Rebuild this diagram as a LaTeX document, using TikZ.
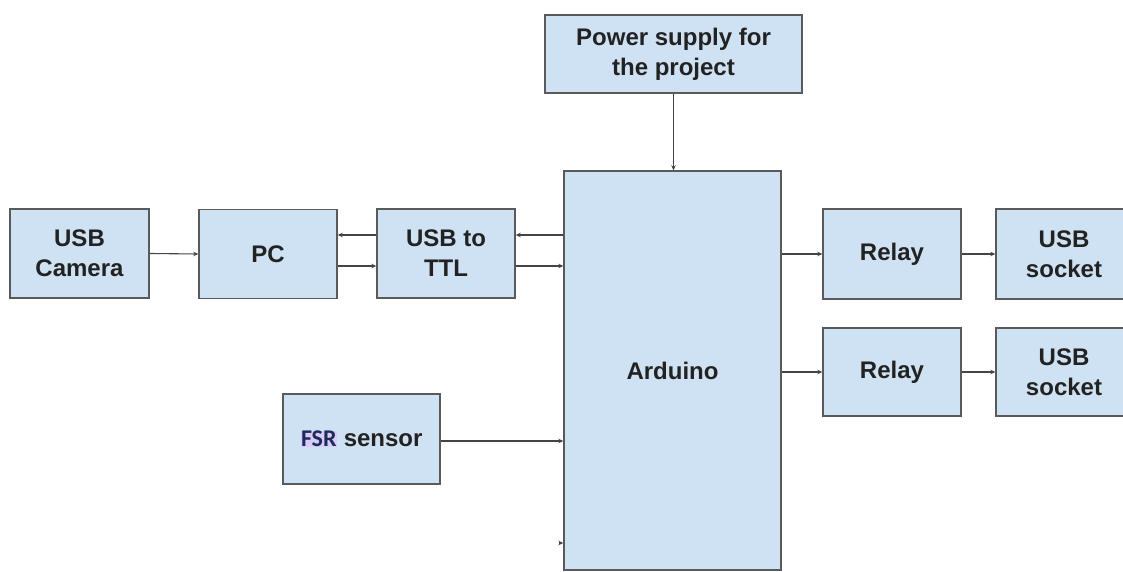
\documentclass[tikz,border=0pt]{standalone}
\usepackage{fontspec}
\setmainfont{Liberation Sans}
\newfontfamily\fsrfont{Carlito}
\usetikzlibrary{arrows.meta, positioning, calc}
\definecolor{boxFill}{HTML}{CFE2F3}
\definecolor{boxEdge}{HTML}{5A5A5A}
\definecolor{wireGray}{HTML}{444444}
\definecolor{textDark}{HTML}{222222}
\definecolor{fsrBlue}{HTML}{1F2A5C}
\definecolor{fsrMark}{HTML}{D6CCF5}
\begin{document}
\begin{tikzpicture}[
        x=1pt, y=-1pt,
        blockBox/.style={
            rectangle, draw=boxEdge, line width=1.4pt, fill=boxFill,
            minimum width=138pt, minimum height=89pt, inner sep=0pt,
            font=\fontsize{24}{30}\selectfont\bfseries, text=textDark, align=center
        },
        arrow/.style={
            line width=1.1pt, draw=wireGray, -{Stealth[length=5pt, width=4.5pt]}
        }
    ]
        \useasboundingbox (0,0) rectangle (1123,572);

        % Controller and supply
        \node (ard) [blockBox, minimum width=217pt, minimum height=399pt] at (672.5,370.5) {Arduino};
        \node (pwr) [blockBox, minimum width=257pt, minimum height=78pt] at (673.5,54) {Power supply for\\the project};

        % Left chain
        \node (cam) [blockBox, minimum width=139pt] at (79.5,253.5) {USB\\Camera};
        \node (pc) [blockBox] at (268,254) {PC};
        \node (ttl) [blockBox] at (446,253.5) {USB to\\TTL};
        \node (fsr) [blockBox, minimum width=157pt, minimum height=90pt] at (361.5,439) {%
            {\fsrfont\fboxsep=0.5pt\colorbox{fsrMark}{\textcolor{fsrBlue}{FSR}}} sensor};

        % Outputs
        \node (rel1) [blockBox, minimum height=90pt] at (892,254) {Relay};
        \node (rel2) [blockBox, minimum height=88pt] at (892,372) {Relay};
        \node (sock1) [blockBox, minimum width=136pt, minimum height=90pt] at (1064,254) {USB\\socket};
        \node (sock2) [blockBox, minimum width=136pt, minimum height=88pt] at (1064,372) {USB\\socket};

        \coordinate (stub) at (559,543);

        \draw [arrow] (pwr.south) -- (pwr.south |- ard.north);
        \draw [arrow] (cam.east) -- (pc.west);
        \draw [arrow] (ttl.west |- 0,235) -- (pc.east |- 0,235);
        \draw [arrow] (pc.east |- 0,266) -- (ttl.west |- 0,266);
        \draw [arrow] (ard.west |- 0,235) -- (ttl.east |- 0,235);
        \draw [arrow] (ttl.east |- 0,266) -- (ard.west |- 0,266);
        \draw [arrow] (fsr.east |- 0,441) -- (ard.west |- 0,441);
        \draw [arrow] (stub) -- (ard.west |- stub);
        \draw [arrow] (ard.east |- rel1.west) -- (rel1.west);
        \draw [arrow] (ard.east |- rel2.west) -- (rel2.west);
        \draw [arrow] (rel1.east) -- (sock1.west);
        \draw [arrow] (rel2.east) -- (sock2.west);
    \end{tikzpicture}
\end{document}
